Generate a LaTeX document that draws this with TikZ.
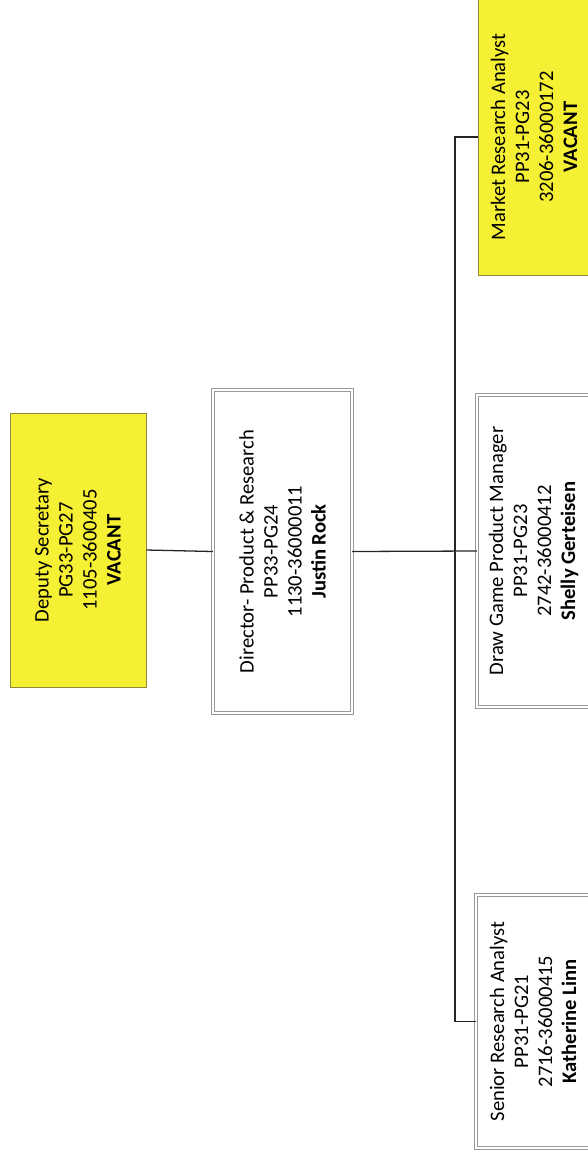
\documentclass[tikz,border=0pt]{standalone}
\usepackage{fontspec}
\setmainfont{Carlito}
\definecolor{vacant}{RGB}{246,240,52}
\tikzset{
	post/.style={rotate=90, align=center, inner sep=0pt, font=\fontsize{17.6}{20.5}\selectfont},
	filled/.style={post, draw=olive!60!gray, line width=0.6pt, fill=vacant},
	held/.style={post, draw=gray!80, line width=0.4pt, double=white, double distance=0.8mm},
	link/.style={draw=black!85, line width=1.1pt}
}
\begin{document}
\begin{tikzpicture}[x=0.3mm, y=-0.3mm]
		\useasboundingbox (0, 0) rectangle (587, 1157);

		\node [filled, minimum width=82.2mm, minimum height=40.8mm] (dep) at (78, 550) {Deputy Secretary\\PG33-PG27\\1105-3600405\\\textbf{VACANT}};
		\node [held, minimum width=96.9mm, minimum height=41.7mm] (dir) at (282.5, 551.5) {Director- Product \& Research\\PP33-PG24\\1130-36000011\\\textbf{Justin Rock}};

		\node [filled, minimum width=82.8mm, minimum height=33.6mm] (mra) at (534, 137) {Market Research Analyst\\PP31-PG23\\3206-36000172\\\textbf{VACANT}};
		\node [held, minimum width=93.6mm, minimum height=33.9mm] (dgm) at (533.5, 551) {Draw Game Product Manager\\PP31-PG23\\2742-36000412\\\textbf{Shelly Gerteisen}};
		\node [held, minimum width=75.9mm, minimum height=34.2mm] (sra) at (533, 1021.5) {Senior Research Analyst\\PP31-PG21\\2716-36000415\\\textbf{Katherine Linn}};

		\coordinate (trunk) at (455, 551);

		\draw [link] (dep.south) -- (dir.north);
		\draw [link] (dir.south) -- (dgm.north);
		\draw [link] (mra.north) -| (trunk) |- (sra.north);
	\end{tikzpicture}
\end{document}
